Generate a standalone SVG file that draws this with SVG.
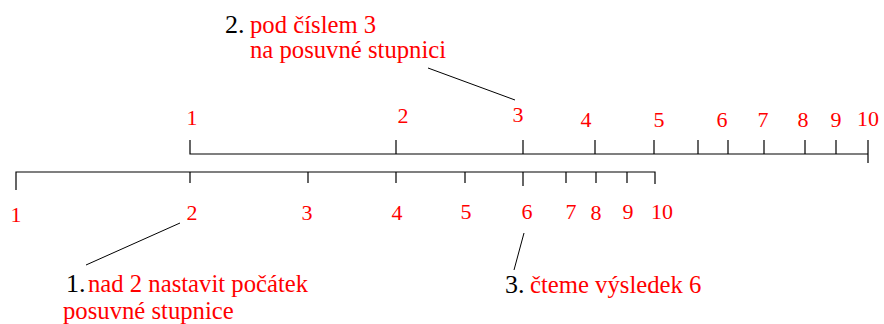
<svg xmlns="http://www.w3.org/2000/svg" width="884" height="324" viewBox="0 0 884 324">
<style>
.ln{stroke:#000;stroke-width:1.2;fill:none}
.ld{stroke:#000;stroke-width:1;fill:none}
.d{font-family:"Liberation Serif","Times New Roman",serif;font-size:22px;fill:#ff0000;text-anchor:middle}
.r{font-family:"Liberation Serif","Times New Roman",serif;font-size:24.7px;fill:#ff0000}
.k{font-family:"Liberation Serif","Times New Roman",serif;font-size:26px;fill:#000}
</style>
<rect width="884" height="324" fill="#fff"/>
<g id="upper-scale">
<path class="ln" d="M190 140V154H868 M868 140V163 M396 140V154 M523 140V154 M595 140V154 M654 140V154 M698 140V154 M728 140V154 M764 140V154 M805 140V154 M836 140V154"/>
<text class="d" x="192" y="125">1</text>
<text class="d" x="403" y="123">2</text>
<text class="d" x="518" y="122">3</text>
<text class="d" x="586" y="127">4</text>
<text class="d" x="659" y="127">5</text>
<text class="d" x="722" y="127">6</text>
<text class="d" x="763" y="127">7</text>
<text class="d" x="803" y="127">8</text>
<text class="d" x="836" y="127">9</text>
<text class="d" x="868" y="126">10</text>
</g>
<g id="lower-scale">
<path class="ln" d="M16 190V172H655V184 M190 172V183 M308 172V183 M396 172V183 M465 172V183 M523 172V186 M566 172V183 M596 172V183 M627 172V183"/>
<text class="d" x="16" y="222">1</text>
<text class="d" x="192" y="220">2</text>
<text class="d" x="307" y="220">3</text>
<text class="d" x="397" y="220">4</text>
<text class="d" x="466" y="219">5</text>
<text class="d" x="527" y="219">6</text>
<text class="d" x="571" y="219">7</text>
<text class="d" x="596" y="220">8</text>
<text class="d" x="628" y="219">9</text>
<text class="d" x="662" y="219">10</text>
</g>
<g id="connectors">
<line class="ld" x1="180" y1="223" x2="86" y2="265"/>
<line class="ld" x1="428" y1="68" x2="515" y2="100"/>
<line class="ld" x1="524" y1="233" x2="514" y2="270"/>
</g>
<g id="note1">
<text class="k" x="66" y="292">1.</text>
<text class="r" x="88" y="292">nad 2 nastavit počátek</text>
<text class="r" x="63" y="319">posuvné stupnice</text>
</g>
<g id="note2">
<text class="k" x="225" y="33">2.</text>
<text class="r" x="250" y="33">pod číslem 3</text>
<text class="r" x="250" y="58">na posuvné stupnici</text>
</g>
<g id="note3">
<text class="k" x="505" y="293">3.</text>
<text class="r" x="530" y="293">čteme výsledek 6</text>
</g>
</svg>
